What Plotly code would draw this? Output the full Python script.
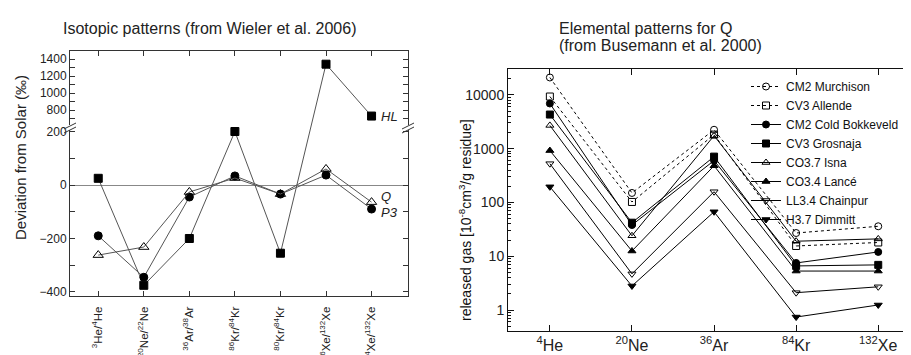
import plotly.graph_objects as go

W, H = 911, 355
FONT = "Liberation Sans, Arial, sans-serif"

# ---------------- Left chart data (Wieler et al. 2006) ----------------
iso_categories = ["<sup>3</sup>He/<sup>4</sup>He", "<sup>20</sup>Ne/<sup>22</sup>Ne",
                  "<sup>36</sup>Ar/<sup>38</sup>Ar", "<sup>86</sup>Kr/<sup>84</sup>Kr",
                  "<sup>80</sup>Kr/<sup>84</sup>Kr", "<sup>136</sup>Xe/<sup>132</sup>Xe",
                  "<sup>124</sup>Xe/<sup>132</sup>Xe"]
hl_values = [25, -375, -200, 200, -255, 1340, 730]
p3_values = [-190, -345, -45, 34, -34, 37, -90]
q_values = [-262, -232, -26, 26, -34, 60, -64]

lower_major = [-400, -200, 0, 200]
lower_minor = [-300, -100, 100]
upper_major = [800, 1000, 1200, 1400]
upper_minor = [700, 900, 1100, 1300]

# ---------------- Right chart data (Busemann et al. 2000) ----------------
elem_categories = ["<sup>4</sup>He", "<sup>20</sup>Ne", "<sup>36</sup>Ar", "<sup>84</sup>Kr", "<sup>132</sup>Xe"]
meteorites = ["CM2 Murchison", "CV3 Allende", "CM2 Cold Bokkeveld", "CV3 Grosnaja",
              "CO3.7 Isna", "CO3.4 Lancé", "LL3.4 Chainpur", "H3.7 Dimmitt"]
murchison = [21000, 150, 2240, 27, 36]
allende = [9300, 102, 1820, 15.5, 18]
cold_bokkeveld = [6900, 38, 600, 7.5, 12]
grosnaja = [4300, 42, 710, 6.6, 6.9]
isna = [2700, 24, 1740, 19, 21]
lance = [920, 12.5, 480, 5.3, 5.3]
chainpur = [525, 4.7, 158, 2.1, 2.7]
dimmitt = [195, 2.8, 67, 0.74, 1.24]
elem_values = [murchison, allende, cold_bokkeveld, grosnaja, isna, lance, chainpur, dimmitt]
symbols = ["circle-open", "square-open", "circle", "square",
           "triangle-up-open", "triangle-up", "triangle-down-open", "triangle-down"]
dashes = ["dot", "dot", "solid", "solid", "solid", "solid", "solid", "solid"]

# broken-axis scale for the left chart
def brk(v):
    return v if v <= 300 else 280 + (v - 800) * 0.318

def px_x(p):
    return p / W

def px_y(p):
    return 1 - p / H

fig = go.Figure()

# left chart traces
line_col = "#555555"
for vals, sym, size in [(hl_values, "square", 8), (p3_values, "circle", 8), (q_values, "triangle-up-open", 9)]:
    fig.add_trace(go.Scatter(
        x=list(range(len(iso_categories))), y=[brk(v) for v in vals],
        mode="lines+markers", xaxis="x", yaxis="y", showlegend=False,
        line=dict(color=line_col, width=1),
        marker=dict(symbol=sym, size=size, color="black", line=dict(color="black", width=1)),
        cliponaxis=False,
    ))

# right chart traces
for name, vals, sym, dash in zip(meteorites, elem_values, symbols, dashes):
    fig.add_trace(go.Scatter(
        x=list(range(len(elem_categories))), y=vals, name=name,
        mode="lines+markers", xaxis="x2", yaxis="y2",
        line=dict(color="black", width=1, dash=dash),
        marker=dict(symbol=sym, size=7, color="black", line=dict(color="black", width=1)),
        cliponaxis=False,
    ))

axis_col = "#333333"
left_tickvals = [brk(v) for v in lower_major + upper_major]
left_ticktext = [("−" + str(-v)) if v < 0 else str(v) for v in lower_major + upper_major]
left_minor = [brk(v) for v in lower_minor + upper_minor]

minor_log = []
for d in [0.1, 1, 10, 100, 1000, 10000]:
    for k in range(2, 10):
        minor_log.append(d * k)

fig.update_layout(
    width=W, height=H,
    margin=dict(l=0, r=0, t=0, b=0),
    paper_bgcolor="white", plot_bgcolor="white",
    font=dict(family=FONT, color="#222222"),
    xaxis=dict(
        domain=[px_x(62), px_x(400)], anchor="y", range=[-0.62, 6.8],
        tickmode="array", tickvals=list(range(len(iso_categories))), ticktext=iso_categories,
        tickangle=-90, tickfont=dict(size=11.5, family=FONT), ticklabelstandoff=5,
        ticks="inside", ticklen=5, tickcolor=axis_col, showline=True, linecolor=axis_col,
        linewidth=1, mirror="ticks", showgrid=False, zeroline=False, automargin=False,
    ),
    yaxis=dict(
        domain=[px_y(288), px_y(43)], anchor="x", range=[-415, 501],
        tickmode="array", tickvals=left_tickvals, ticktext=left_ticktext,
        tickfont=dict(size=12, family=FONT),
        ticks="inside", ticklen=5, tickcolor=axis_col, showline=True, linecolor=axis_col,
        linewidth=1, mirror="ticks", showgrid=False,
        zeroline=True, zerolinecolor="#888888", zerolinewidth=1,
        minor=dict(tickmode="array", tickvals=left_minor, ticks="inside", ticklen=5, tickcolor=axis_col),
        automargin=False,
    ),
    xaxis2=dict(
        domain=[px_x(500), px_x(908)], anchor="y2", range=[-0.51, 4.46],
        tickmode="array", tickvals=list(range(len(elem_categories))), ticktext=elem_categories,
        tickfont=dict(size=16, family=FONT),
        ticks="inside", ticklen=6, tickcolor="#111111", showline=True, linecolor="#111111",
        linewidth=1, mirror="ticks", showgrid=False, zeroline=False, automargin=False,
    ),
    yaxis2=dict(
        domain=[px_y(323), px_y(61)], anchor="x2", type="log", range=[-0.39, 4.48],
        tickmode="array", tickvals=[1, 10, 100, 1000, 10000],
        ticktext=["1", "10", "100", "1000", "10000"],
        tickfont=dict(size=14, family=FONT),
        ticks="inside", ticklen=6, tickcolor="#111111", showline=True, linecolor="#111111",
        linewidth=1, mirror="ticks", showgrid=False, zeroline=False,
        minor=dict(tickmode="array", tickvals=minor_log, ticks="inside", ticklen=3, tickcolor="#111111"),
        automargin=False,
    ),
    legend=dict(
        x=px_x(738), y=px_y(64), xanchor="left", yanchor="top",
        font=dict(size=12, family=FONT, color="#111111"),
        bgcolor="rgba(0,0,0,0)", borderwidth=0, tracegroupgap=0,
        itemwidth=30,
    ),
)

annotations = [
    dict(text="Isotopic patterns (from Wieler et al. 2006)", x=px_x(53), y=px_y(20),
         xref="paper", yref="paper", xanchor="left", yanchor="middle", showarrow=False,
         font=dict(size=16, family=FONT, color="#222222")),
    dict(text="Elemental patterns for Q", x=px_x(549), y=px_y(20),
         xref="paper", yref="paper", xanchor="left", yanchor="middle", showarrow=False,
         font=dict(size=16, family=FONT, color="#222222")),
    dict(text="(from Busemann et al. 2000)", x=px_x(549), y=px_y(38),
         xref="paper", yref="paper", xanchor="left", yanchor="middle", showarrow=False,
         font=dict(size=16, family=FONT, color="#222222")),
    dict(text="Deviation from Solar (‰)", x=px_x(12), y=px_y(150), textangle=-90,
         xref="paper", yref="paper", xanchor="center", yanchor="middle", showarrow=False,
         font=dict(size=15, family=FONT, color="#222222")),
    dict(text="released gas [10<sup>-8</sup>cm<sup>3</sup>/g residue]", x=px_x(457), y=px_y(212),
         textangle=-90, xref="paper", yref="paper", xanchor="center", yanchor="middle",
         showarrow=False, font=dict(size=14, family=FONT, color="#111111")),
    dict(text="<i>HL</i>", x=6, y=brk(hl_values[6]), xref="x", yref="y", xanchor="left",
         yanchor="middle", xshift=7, showarrow=False, font=dict(size=13, family=FONT, color="#222222")),
    dict(text="<i>Q</i>", x=6, y=-43, xref="x", yref="y", xanchor="left",
         yanchor="middle", xshift=7, showarrow=False, font=dict(size=13, family=FONT, color="#222222")),
    dict(text="<i>P3</i>", x=6, y=-101, xref="x", yref="y", xanchor="left",
         yanchor="middle", xshift=7, showarrow=False, font=dict(size=13, family=FONT, color="#222222")),
]
fig.update_layout(annotations=annotations)

# axis-break marks on the left chart
shapes = []
for ax in [62, 400]:
    shapes.append(dict(type="rect", xref="paper", yref="paper",
                       x0=px_x(ax - 2), x1=px_x(ax + 2), y0=px_y(122), y1=px_y(117),
                       fillcolor="white", line=dict(width=0)))
    for dy in [0, 4]:
        shapes.append(dict(type="line", xref="paper", yref="paper",
                           x0=px_x(ax - 6), y0=px_y(121 + dy), x1=px_x(ax + 6), y1=px_y(115 + dy),
                           line=dict(color=axis_col, width=1)))
fig.update_layout(shapes=shapes)

fig.write_html("out.html")
